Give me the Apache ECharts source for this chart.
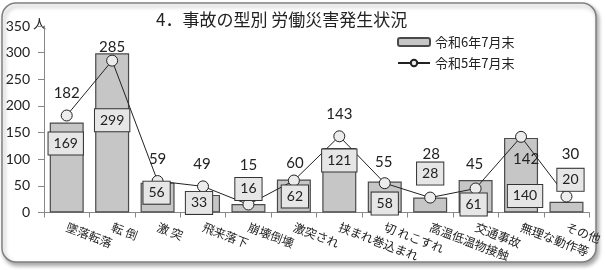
<!DOCTYPE html>
<html><head><meta charset="utf-8">
<script src="https://cdn.jsdelivr.net/npm/echarts@6/dist/echarts.min.js"></script>
<style>html,body{margin:0;padding:0;background:#fff}#c{width:605px;height:270px}</style>
</head><body><div id="c"></div>
<script>
const categories = ['墜落転落','転 倒','激 突','飛来落下','崩壊倒壊','激突され','挟まれ巻込まれ','切 れこすれ','高温低温物接触','交通事故','無理な動作等','その他'];
const r6Values = [169, 299, 56, 33, 16, 62, 121, 58, 28, 61, 140, 20];
const r5Values = [182, 285, 59, 49, 15, 60, 143, 55, 28, 45, 142, 30];
const yTicks = [0, 50, 100, 150, 200, 250, 300, 350];
const seriesNames = ['令和6年7月末', '令和5年7月末'];

// label placement styling (offsets in px)
const barLabelShift = [[-1,10],[0,56],[-1,-1],[-4,-3],[0,-26],[1,6],[0,1.5],[0,11],[0,-35],[-2,13.5],[4,47],[4,-33]];
const lineLabelShift = [[0,-22],[0,-13],[0,-21.5],[-1,-22],[0,-39],[1,-17],[0,-22.5],[-1,-21],[1,-43],[-1,-24],[5,22],[4,-42]];

const NUMF = 'Lato, "Noto Sans CJK JP", sans-serif';
const JPF = '"Noto Sans CJK JP", sans-serif';

const chart = echarts.init(document.getElementById('c'));
chart.setOption({
  animation: false,
  graphic: [
    { type: 'rect', z: -10, shape: { x: 2, y: 3, width: 594, height: 259, r: 14 },
      style: { fill: '#fff', stroke: '#808080', lineWidth: 1.5, shadowBlur: 4, shadowOffsetX: 2, shadowOffsetY: 3, shadowColor: 'rgba(0,0,0,0.35)' } },
    { type: 'text', left: 156, top: 11, style: { text: '4．事故の型別 労働災害発生状況', font: '17px ' + JPF, fill: '#222' } },
    { type: 'text', left: 33, top: 17, style: { text: '人', font: '13px ' + JPF, fill: '#222' } }
  ],
  legend: {
    data: seriesNames, orient: 'vertical', left: 392, top: 30, itemWidth: 32, itemHeight: 8, itemGap: 7,
    textStyle: { fontFamily: JPF, fontSize: 13, color: '#222', lineHeight: 14 }
  },
  grid: { left: 44, right: 15, top: 26, bottom: 57.5 },
  xAxis: {
    type: 'category', data: categories,
    axisLine: { lineStyle: { color: '#888', width: 1 } },
    axisTick: { show: true, length: 5, lineStyle: { color: '#888' } },
    axisLabel: { rotate: -21, margin: 14, fontFamily: JPF, fontSize: 12, color: '#222', interval: 0 }
  },
  yAxis: {
    type: 'value', min: 0, max: 350, interval: 50,
    splitLine: { show: false },
    axisLine: { show: true, lineStyle: { color: '#888' } },
    axisTick: { show: true, length: 6, lineStyle: { color: '#888' } },
    axisLabel: { fontFamily: NUMF, fontSize: 14, color: '#222', margin: 14,
      formatter: v => yTicks.indexOf(v) >= 0 ? String(v) : '' }
  },
  series: [
    { name: seriesNames[0], type: 'bar', data: r6Values, barWidth: 34, z: 1,
      itemStyle: { color: '#c6c6c6', borderColor: '#4a4a4a', borderWidth: 1.2 } },
    { name: seriesNames[1], type: 'line', data: r5Values, z: 2,
      lineStyle: { color: '#222', width: 1 }, symbol: 'circle', symbolSize: 11,
      itemStyle: { color: '#ececec', borderColor: '#222', borderWidth: 1 },
      label: { show: true, position: 'inside', fontFamily: NUMF, fontSize: 15, color: '#222' },
      data: r5Values.map((v, i) => ({ value: v, label: { offset: lineLabelShift[i] } })) },
    { name: 'labels', type: 'bar', barWidth: 34, barGap: '-100%', z: 3, silent: true,
      itemStyle: { color: 'rgba(0,0,0,0)' },
      label: { show: true, position: 'insideTop', distance: 0, fontFamily: NUMF, fontSize: 14, color: '#222',
        backgroundColor: '#e6e6e6', borderColor: '#333', borderWidth: 1, padding: [3, 5], lineHeight: 16 },
      data: r6Values.map((v, i) => ({ value: v, label: { offset: barLabelShift[i] } })) }
  ]
});
</script></body></html>
